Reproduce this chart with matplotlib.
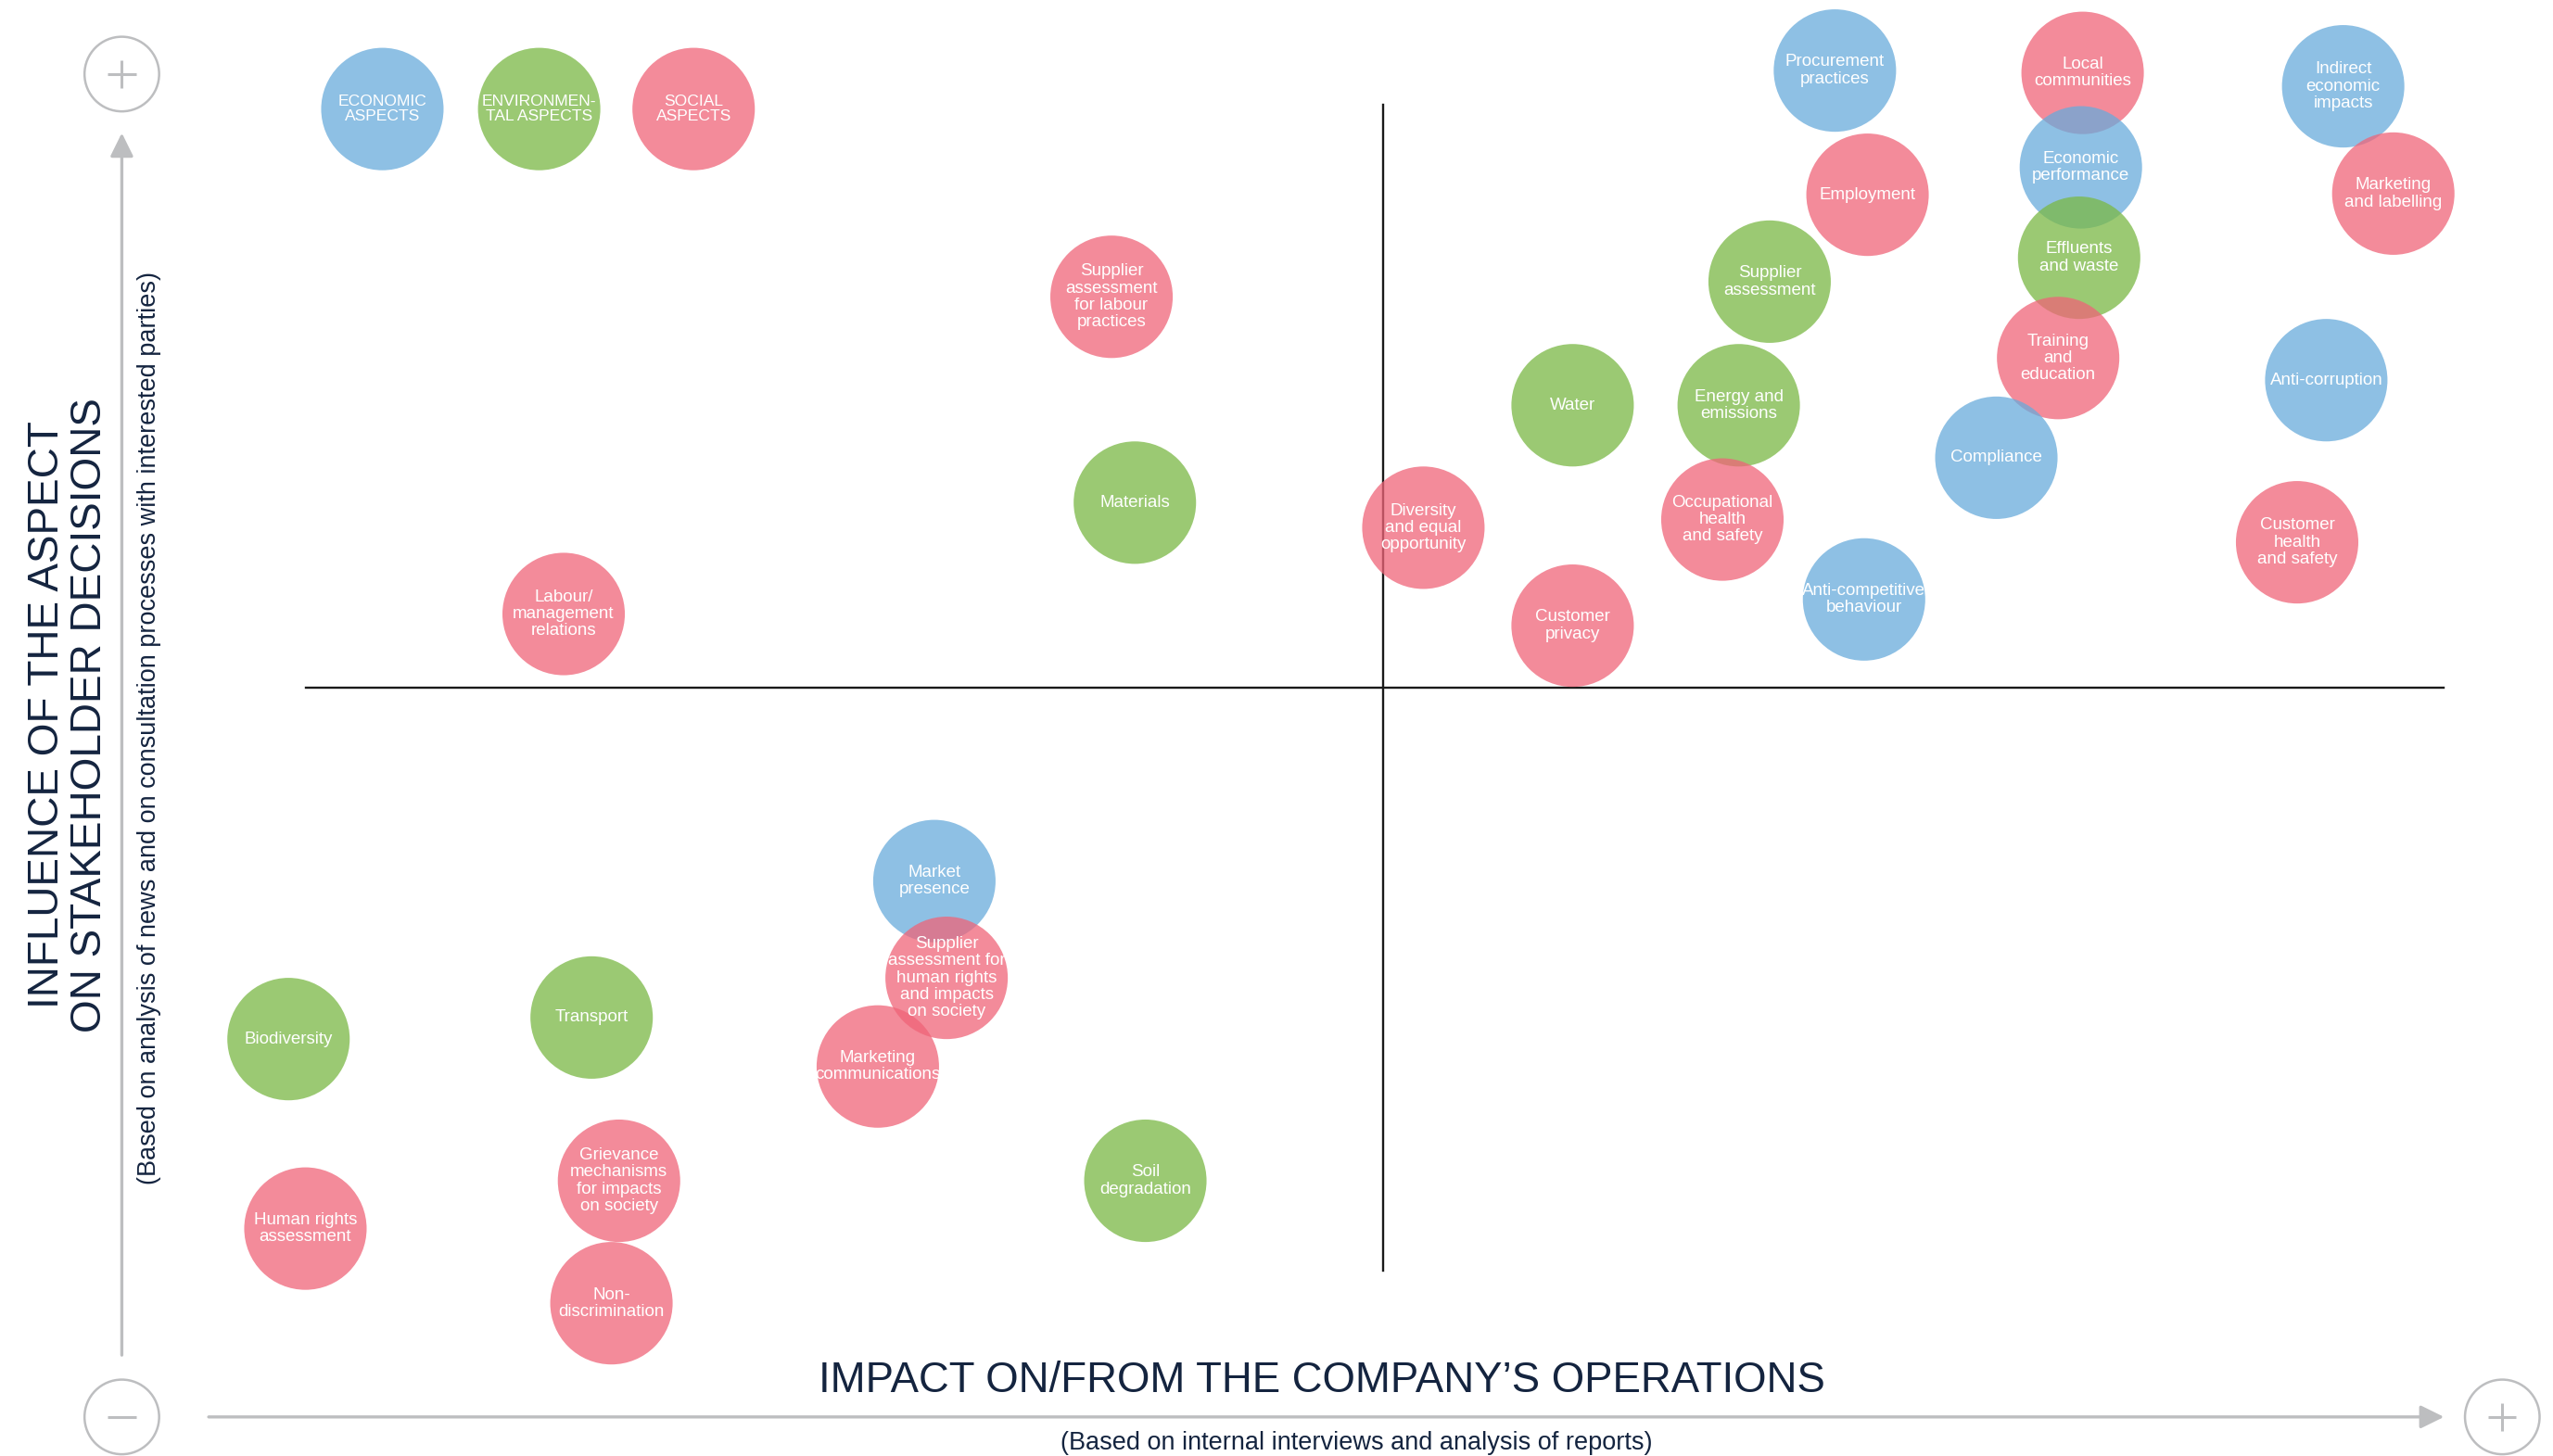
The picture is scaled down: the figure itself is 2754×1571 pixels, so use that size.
import numpy as np
import matplotlib.pyplot as plt
from matplotlib.patches import Circle

plt.rcParams['font.family'] = ['Liberation Sans', 'DejaVu Sans']

# material aspects: impact on/from operations (x), influence on stakeholders (y)
labels = ["Procurement\npractices", "Local\ncommunities", "Indirect\neconomic\nimpacts",
          "Economic\nperformance", "Marketing\nand labelling", "Employment",
          "Effluents\nand waste", "Supplier\nassessment",
          "Supplier\nassessment\nfor labour\npractices", "Training\nand\neducation",
          "Anti-corruption", "Water", "Energy and\nemissions", "Compliance", "Materials",
          "Diversity\nand equal\nopportunity", "Occupational\nhealth\nand safety",
          "Customer\nhealth\nand safety", "Customer\nprivacy", "Anti-competitive\nbehaviour",
          "Labour/\nmanagement\nrelations", "Market\npresence",
          "Supplier\nassessment for\nhuman rights\nand impacts\non society",
          "Marketing\ncommunications", "Biodiversity", "Transport", "Soil\ndegradation",
          "Grievance\nmechanisms\nfor impacts\non society", "Human rights\nassessment",
          "Non-\ndiscrimination"]
group = ["eco", "soc", "eco", "eco", "soc", "soc", "env", "env", "soc", "soc",
         "eco", "env", "env", "eco", "env", "soc", "soc", "soc", "soc", "eco",
         "soc", "eco", "soc", "soc", "env", "env", "env", "soc", "soc", "soc"]
impact = [7.75, 12.0, 16.47, 11.97, 17.33, 8.31, 11.94, 6.63, -4.66, 11.58,
          16.18, 3.25, 6.10, 10.52, -4.26, 0.69, 5.82, 15.68, 3.25, 8.25,
          -14.06, -7.70, -7.49, -8.67, -18.78, -13.58, -4.08, -13.11, -18.49, -13.24]
influence = [10.58, 10.54, 10.31, 8.92, 8.47, 8.45, 7.37, 6.96, 6.70, 5.65,
             5.27, 4.84, 4.84, 3.94, 3.17, 2.74, 2.88, 2.49, 1.06, 1.51,
             1.26, -3.32, -4.98, -6.50, -6.03, -5.66, -8.46, -8.46, -9.28, -10.56]

legend_labels = ["ECONOMIC\nASPECTS", "ENVIRONMEN-\nTAL ASPECTS", "SOCIAL\nASPECTS"]
legend_groups = ["eco", "env", "soc"]
legend_x = [-17.17, -14.48, -11.83]
legend_y = 9.92

# fill colours (drawn with alpha so overlaps darken)
colors = {"eco": "#68abdb", "env": "#7ab844", "soc": "#ef6478"}
alpha = 0.75
r = 1.05
grey = "#bdbec0"
navy = "#14243f"

fig = plt.figure(figsize=(27.54, 15.71), dpi=100)
ax = fig.add_axes([0, 0, 1, 1])
ax.set_xlim(-23.73, 20.07)
ax.set_ylim(-13.18, 11.79)
ax.axis("off")

# quadrant lines
ax.plot([-18.48, 18.2], [0, 0], color="#1a1a1a", lw=1.7, zorder=1)
ax.plot([0, 0], [-10.0, 10.0], color="#1a1a1a", lw=1.7, zorder=1)

# axis arrows
arrow = dict(arrowstyle="-|>,head_length=0.77,head_width=0.38", mutation_scale=20,
             color=grey, lw=2.4, shrinkA=0, shrinkB=0)
ax.annotate("", xy=(-21.64, 9.51), xytext=(-21.64, -11.45), arrowprops=arrow)
ax.annotate("", xy=(18.2, -12.51), xytext=(-20.15, -12.51), arrowprops=arrow)

# plus / minus markers
for cx, cy, sign in [(-21.64, 10.52, "+"), (-21.64, -12.51, "-"), (19.2, -12.51, "+")]:
    ax.add_patch(Circle((cx, cy), 0.64, fill=False, ec=grey, lw=1.8))
    ax.plot([cx - 0.24, cx + 0.24], [cy, cy], color=grey, lw=2.2, solid_capstyle="butt")
    if sign == "+":
        ax.plot([cx, cx], [cy - 0.24, cy + 0.24], color=grey, lw=2.2, solid_capstyle="butt")

# bubbles
for lab, g, x, y in zip(labels, group, impact, influence):
    ax.add_patch(Circle((x, y), r, fc=colors[g], ec="none", alpha=alpha, zorder=2))
    ax.text(x, y, lab, color="white", fontsize=13.5, ha="center", va="center",
            multialignment="center", linespacing=1.1, zorder=3)

for lab, g, x in zip(legend_labels, legend_groups, legend_x):
    ax.add_patch(Circle((x, legend_y), r, fc=colors[g], ec="none", alpha=alpha, zorder=2))
    ax.text(x, legend_y, lab, color="white", fontsize=12.6, ha="center", va="center",
            multialignment="center", linespacing=1.1, zorder=3)

# axis titles
ax.text(-1.05, -11.9, "IMPACT ON/FROM THE COMPANY\u2019S OPERATIONS", color=navy,
        fontsize=32.8, ha="center", va="center")
ax.text(-0.46, -12.96, "(Based on internal interviews and analysis of reports)",
        color=navy, fontsize=19.5, ha="center", va="center")
ax.text(-22.55, -0.47, "INFLUENCE OF THE ASPECT\nON STAKEHOLDER DECISIONS", color=navy,
        fontsize=33, ha="center", va="center", rotation=90, linespacing=1.05)
ax.text(-21.17, -0.70,
        "(Based on analysis of news and on consultation processes with interested parties)",
        color=navy, fontsize=19.5, ha="center", va="center", rotation=90)

fig.savefig("out.png", dpi=100)
